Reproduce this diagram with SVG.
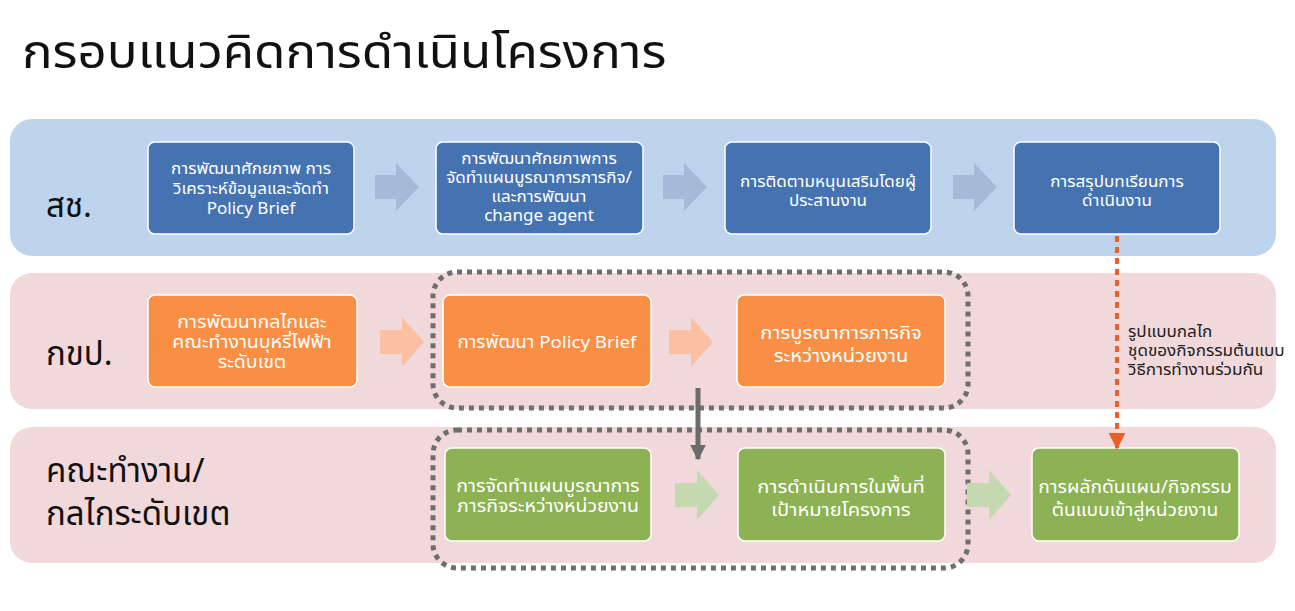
<svg xmlns="http://www.w3.org/2000/svg" width="1295" height="611" viewBox="0 0 1295 611">
<defs>
<style>
text{font-family:"Noto Sans Thai","Noto Sans","Liberation Sans",sans-serif;}
.t{font-size:15.5px;fill:#ffffff;text-anchor:middle;}
.tb{font-size:17px;fill:#ffffff;text-anchor:middle;}
.tc{font-size:17.5px;fill:#ffffff;text-anchor:middle;}
.lbl{font-size:33px;fill:#111111;}
.note{font-size:16px;fill:#222222;}
.blue{fill:#4573b1;stroke:#ffffff;stroke-width:1.5;}
.orange{fill:#f88f45;stroke:#ffffff;stroke-width:1.5;}
.green{fill:#8cb254;stroke:#ffffff;stroke-width:1.5;}
.dot{fill:none;stroke:#6e6e6e;stroke-width:5;stroke-dasharray:5 5;}
</style>
<marker id="ah-gray" viewBox="0 0 10 10" refX="9" refY="5" markerWidth="3.2" markerHeight="3.2" orient="auto"><path d="M0,0 L10,5 L0,10 Z" fill="#6b6b6b"/></marker>
<marker id="ah-orange" viewBox="0 0 10 10" refX="9" refY="5" markerWidth="4.2" markerHeight="4.2" orient="auto"><path d="M0,0 L10,5 L0,10 Z" fill="#e8612a"/></marker>
</defs>
<rect width="1295" height="611" fill="#ffffff"/>
<g transform="translate(22 0) scale(1.11 1) translate(-22 0)">
<text x="22" y="68" style="font-size:46px;fill:#111111">กรอบแนวคิดการดำเนินโครงการ</text>
</g>

<g id="lane-sch">
<rect x="10" y="119" width="1266" height="137" rx="22" fill="#bed3ec"/>
<text class="lbl" x="46" y="217">สช.</text>
</g>
<g id="lane-kkp">
<rect x="10" y="273" width="1266" height="136" rx="22" fill="#f1d8da"/>
<text class="lbl" x="46" y="365">กขป.</text>
</g>
<g id="lane-khet">
<rect x="10" y="427" width="1266" height="136" rx="22" fill="#f1d8da"/>
<text class="lbl" x="46" y="482">คณะทำงาน/</text>
<text class="lbl" x="46" y="525">กลไกระดับเขต</text>
</g>

<g id="group1"><rect class="dot" x="433" y="272" width="535" height="136" rx="24"/></g>
<g id="group2"><rect class="dot" x="433" y="430" width="535" height="138" rx="24"/></g>

<g id="b1"><rect class="blue" x="148" y="142" width="206" height="92" rx="7"/>
<g transform="translate(251 0) scale(1.1 1) translate(-251 0)">
<text class="t" x="251" y="174">การพัฒนาศักยภาพ การ</text>
<text class="t" x="251" y="194">วิเคราะห์ข้อมูลและจัดทำ</text>
<text class="t" x="251" y="214">Policy Brief</text></g></g>
<g id="b2"><rect class="blue" x="436" y="142" width="207" height="92" rx="7"/>
<g transform="translate(539 0) scale(1.1 1) translate(-539 0)">
<text class="t" x="539" y="164">การพัฒนาศักยภาพการ</text>
<text class="t" x="539" y="183">จัดทำแผนบูรณาการภารกิจ/</text>
<text class="t" x="539" y="202">และการพัฒนา</text>
<text class="t" x="539" y="221">change agent</text></g></g>
<g id="b3"><rect class="blue" x="725" y="142" width="206" height="92" rx="7"/>
<g transform="translate(828 0) scale(1.1 1) translate(-828 0)">
<text class="t" x="828" y="187">การติดตามหนุนเสริมโดยผู้</text>
<text class="t" x="828" y="206">ประสานงาน</text></g></g>
<g id="b4"><rect class="blue" x="1014" y="142" width="206" height="92" rx="7"/>
<g transform="translate(1117 0) scale(1.1 1) translate(-1117 0)">
<text class="t" x="1117" y="187">การสรุปบทเรียนการ</text>
<text class="t" x="1117" y="206">ดำเนินงาน</text></g></g>

<g id="o1"><rect class="orange" x="148" y="295" width="209" height="92" rx="7"/>
<g transform="translate(252 0) scale(1.15 1) translate(-252 0)">
<text class="tb" x="252" y="328">การพัฒนากลไกและ</text>
<text class="tb" x="252" y="348">คณะทำงานบุหรี่ไฟฟ้า</text>
<text class="tb" x="252" y="368">ระดับเขต</text></g></g>
<g id="o2"><rect class="orange" x="443" y="295" width="208" height="92" rx="7"/>
<g transform="translate(547 0) scale(1.1 1) translate(-547 0)">
<text class="tb" x="547" y="348">การพัฒนา Policy Brief</text></g></g>
<g id="o3"><rect class="orange" x="737" y="295" width="208" height="92" rx="7"/>
<g transform="translate(841 0) scale(1.15 1) translate(-841 0)">
<text class="tc" x="841" y="339">การบูรณาการภารกิจ</text>
<text class="tc" x="841" y="362">ระหว่างหน่วยงาน</text></g></g>

<g id="g1"><rect class="green" x="445" y="448" width="206" height="93" rx="7"/>
<g transform="translate(548 0) scale(1.15 1) translate(-548 0)">
<text class="tb" x="548" y="492">การจัดทำแผนบูรณาการ</text>
<text class="tb" x="548" y="512">ภารกิจระหว่างหน่วยงาน</text></g></g>
<g id="g2"><rect class="green" x="738" y="448" width="207" height="93" rx="7"/>
<g transform="translate(841 0) scale(1.15 1) translate(-841 0)">
<text class="tc" x="841" y="493">การดำเนินการในพื้นที่</text>
<text class="tc" x="841" y="516">เป้าหมายโครงการ</text></g></g>
<g id="g3"><rect class="green" x="1032" y="448" width="207" height="93" rx="7"/>
<g transform="translate(1135 0) scale(1.1 1) translate(-1135 0)">
<text class="tc" x="1135" y="493">การผลักดันแผน/กิจกรรม</text>
<text class="tc" x="1135" y="516">ต้นแบบเข้าสู่หน่วยงาน</text></g></g>

<g id="connectors">
<path d="M375,175 h21 v-12 l23,24 l-23,24 v-12 h-21 Z" fill="#a6b9d7"/>
<path d="M663,175 h21 v-12 l23,24 l-23,24 v-12 h-21 Z" fill="#a6b9d7"/>
<path d="M953,175 h21 v-12 l23,24 l-23,24 v-12 h-21 Z" fill="#a6b9d7"/>
<path d="M380,330 h22 v-13 l22,25 l-22,25 v-13 h-22 Z" fill="#fbc0a2"/>
<path d="M669,330 h22 v-13 l22,25 l-22,25 v-13 h-22 Z" fill="#fbc0a2"/>
<path d="M675,483 h22 v-13 l22,25 l-22,25 v-13 h-22 Z" fill="#c5d9b0"/>
<path d="M967,483 h22 v-13 l22,25 l-22,25 v-13 h-22 Z" fill="#c5d9b0"/>
<line x1="698" y1="388" x2="698" y2="459" stroke="#6b6b6b" stroke-width="5" marker-end="url(#ah-gray)"/>
<line x1="1117" y1="236" x2="1117" y2="448" stroke="#e8612a" stroke-width="4" stroke-dasharray="6 5" marker-end="url(#ah-orange)"/>
</g>
<g id="note" transform="translate(1128 0) scale(1.07 1) translate(-1128 0)">
<text class="note" x="1128" y="337">รูปแบบกลไก</text>
<text class="note" x="1128" y="356">ชุดของกิจกรรมต้นแบบ</text>
<text class="note" x="1128" y="375">วิธีการทำงานร่วมกัน</text>
</g>
</svg>
